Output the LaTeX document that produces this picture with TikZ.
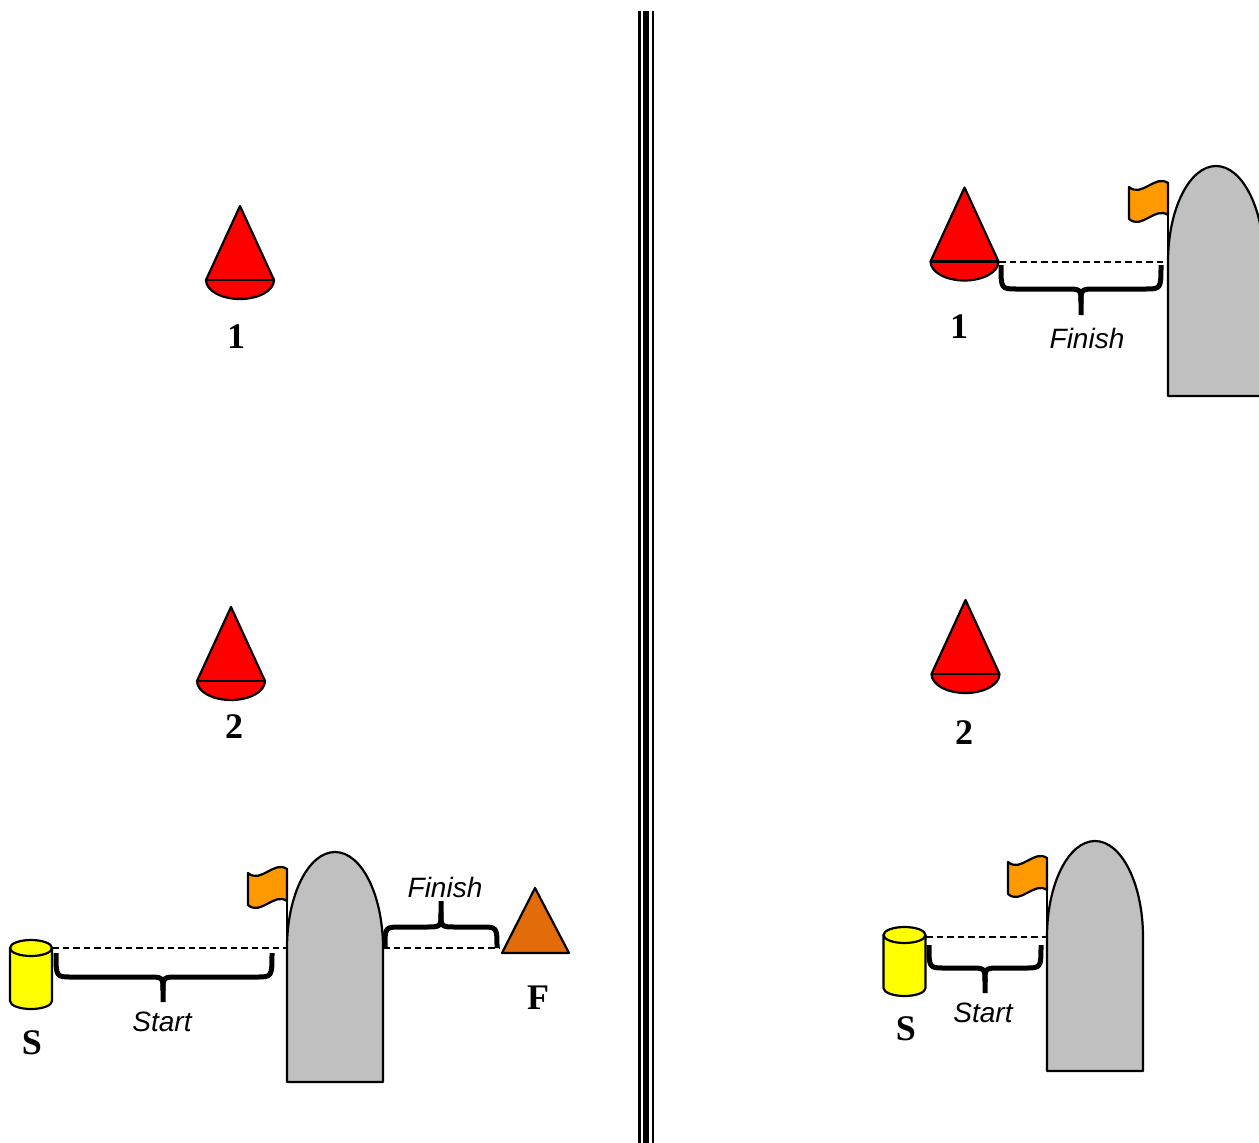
\documentclass[tikz,border=0pt]{standalone}
\usepackage{fontspec}
\setmainfont{Liberation Serif}
\newfontfamily\lsans{Liberation Sans}
\definecolor{buoyred}{HTML}{FF0000}
\definecolor{boatgray}{HTML}{C0C0C0}
\definecolor{canyellow}{HTML}{FFFF00}
\definecolor{flagorange}{HTML}{FF9900}
\definecolor{fmark}{HTML}{E26B0A}
\tikzset{
  outl/.style={draw=black,line width=2.2pt,line join=round},
  dashln/.style={draw=black,line width=1.7pt,dash pattern=on 6.5pt off 4pt},
  bracestroke/.style={draw=black,line width=5pt,line join=round},
  numlbl/.style={font=\fontsize{36}{36}\selectfont\bfseries,inner sep=0pt},
  wordlbl/.style={font=\lsans\itshape\fontsize{28}{28}\selectfont,inner sep=0pt},
  cone/.pic={
    \path[outl,fill=buoyred] (0,-74) -- (-34,0) arc[start angle=180,end angle=0,x radius=34,y radius=19] -- cycle;
    \draw[outl] (-34,0) -- (34,0);
  },
  can/.pic={
    \path[outl,fill=canyellow] (-21,0) -- (-21,53) arc[start angle=180,end angle=0,x radius=21,y radius=8] -- (21,0) -- cycle;
    \path[outl,fill=canyellow] (0,0) ellipse[x radius=21,y radius=8];
  },
  boat/.pic={
    \path[outl,fill=boatgray] (0,134) -- (0,0) arc[start angle=180,end angle=360,x radius=48,y radius=96] -- (96,134) -- cycle;
  },
  flag/.pic={
    \path[outl,fill=flagorange] (-39,-75) .. controls (-26,-64) and (-13,-88) .. (0,-79)
      -- (0,-47) .. controls (-13,-56) and (-26,-32) .. (-39,-43) -- cycle;
    \draw[outl] (0,0) -- (0,-80);
  }
}
\newcommand\bracepath[6]{%
  \draw[bracestroke] (#1,#4) .. controls (#1,#5) .. ({#1+16},#5) -- ({#2-16},#5)
     .. controls (#2,#5) .. (#2,{#5+0.55*(#6-#5)}) -- (#2,#6);
  \draw[bracestroke] (#3,#4) .. controls (#3,#5) .. ({#3-16},#5) -- ({#2+16},#5)
     .. controls (#2,#5) .. (#2,{#5+0.55*(#6-#5)});
}
\begin{document}
\begin{tikzpicture}[x=1pt,y=-1pt]
\useasboundingbox (0,0) rectangle (1259,1143);
\clip (0,0) rectangle (1259,1143);
\fill[white] (0,0) rectangle (1259,1143);

% divider
\draw[line width=2.6pt] (639.2,11) coordinate (d1a) -- (639.2,1143) coordinate (d1b);
\draw[line width=6.4pt] (645.8,11) coordinate (d2a) -- (645.8,1143) coordinate (d2b);
\draw[line width=2.6pt] (653,11) coordinate (d3a) -- (653,1143) coordinate (d3b);

% ===== left panel =====
\pic (lc1) at (240,280) {cone};
\node[numlbl] (l1) at (236,337) {1};
\pic (lc2) at (231,681) {cone};
\node[numlbl] (l2) at (234,727) {2};

\pic (lcan) at (31,948) {can};
\node[numlbl] (lS) at (32,1043) {S};
\pic (lflag) at (287,948) {flag};
\pic (lboat) at (287,948) {boat};
\path[outl,fill=fmark] (535,888) coordinate (ltri) -- (502,953) -- (569,953) -- cycle;
\node[numlbl] (lF) at (538,998) {F};

\coordinate (lcanR) at (52,948);
\coordinate (lboatL) at (287,948);
\coordinate (lboatR) at (383,948);
\coordinate (ltriL) at (499,948);
\draw[dashln] (lcanR) -- (lboatL);
\draw[dashln] (lboatR) -- (ltriL);

\bracepath{56}{163}{272}{953}{977}{1002}
\node[wordlbl] (lstart) at (162,1022) {Start};
\bracepath{385}{441}{497}{948}{927}{901}
\node[wordlbl] (lfinish) at (445,887) {Finish};

% ===== right panel =====
\pic (rc1) at (964.5,261.5) {cone};
\node[numlbl] (r1) at (959,327) {1};
\pic (rflag1) at (1168,262) {flag};
\pic (rboat1) at (1168,262) {boat};
\coordinate (rc1R) at (999,262);
\coordinate (rboat1L) at (1168,262);
\draw[dashln] (rc1R) -- (rboat1L);
\bracepath{1001}{1081}{1161}{265}{289}{315}
\node[wordlbl] (rfinish) at (1087,338) {Finish};

\pic (rc2) at (965.5,674) {cone};
\node[numlbl] (r2) at (964,733) {2};

\pic (rcan) at (904.5,935) {can};
\node[numlbl] (rS) at (906,1029) {S};
\pic (rflag2) at (1047,937) {flag};
\pic (rboat2) at (1047,937) {boat};
\coordinate (rcanR) at (926,937);
\coordinate (rboat2L) at (1047,937);
\draw[dashln] (rcanR) -- (rboat2L);
\bracepath{929}{985}{1041}{945}{968}{993}
\node[wordlbl] (rstart) at (983,1013) {Start};
\end{tikzpicture}
\end{document}
